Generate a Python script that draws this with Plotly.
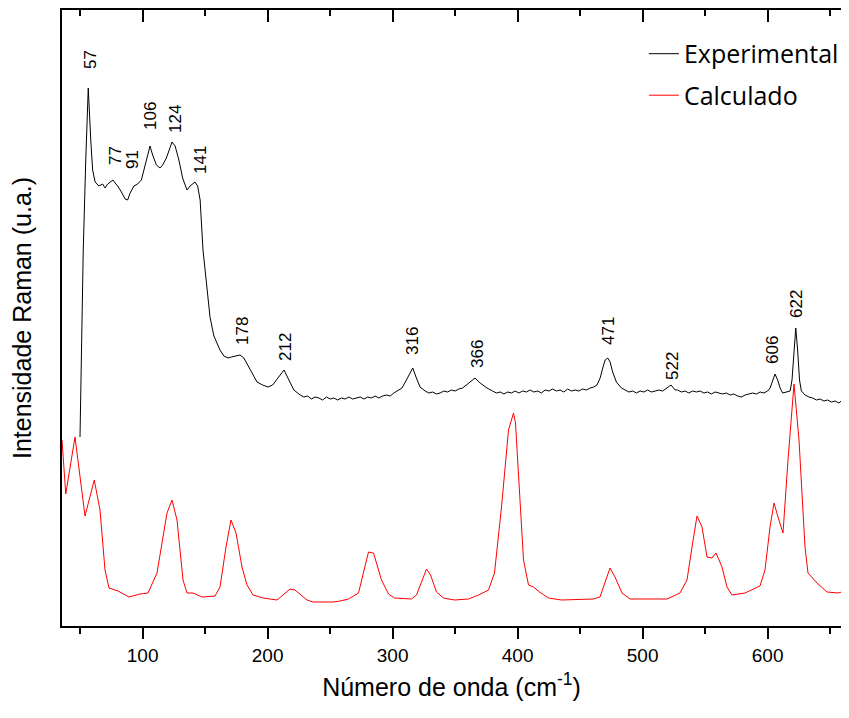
import plotly.graph_objects as go

# ---------------- data ----------------
exp_wn = [49.9, 52.5, 54.5, 56.5, 58.5, 60, 62, 65, 68, 70, 72, 74, 76.3, 78, 80, 83, 86, 88, 90, 93,
          96, 99, 101, 103.5, 105.9, 108, 111, 113.9, 116, 119, 121.5, 123.5, 126, 129, 132, 135.5,
          138, 141.9, 144, 146, 148.3, 151, 153.9, 157, 161.9, 165, 168.3, 171, 174, 177.9, 181, 185,
          188, 191.5, 196, 200.3, 204, 208, 213.1, 217, 221, 226, 229, 232, 235, 238, 241, 244, 247,
          250, 253, 256, 259, 262, 265, 268, 271, 274, 277, 280, 283, 286, 289, 292, 295, 298, 301,
          304, 307.5, 311, 316.1, 319, 321.9, 326, 329, 332, 335, 338, 341, 344, 347, 350, 353, 356,
          361, 365.9, 370, 375.5, 380, 383, 386, 389, 392, 395, 398, 401, 404, 407, 410, 413, 416,
          419, 422, 425, 428, 431, 434, 437, 440, 443, 446, 449, 452, 455, 458, 461, 463.5, 466,
          468.3, 470, 472.1, 474, 476, 479, 483, 486, 489, 492, 495, 498, 501, 504, 507, 510, 513,
          516, 519, 522.7, 526, 528, 531, 534, 537, 540, 543, 546, 549, 552, 555, 558, 561, 564, 567,
          570, 573, 576, 579, 582, 585, 588, 591, 594, 597, 600, 602, 604, 605.9, 608, 610, 612, 615,
          618, 619.5, 621, 622.5, 624, 625.5, 627, 630, 633, 636, 639, 642, 645, 648, 651, 654, 657,
          660, 663, 665]
exp_int = [189, 376, 466, 538, 486, 456, 444, 440, 442, 438, 442, 444, 446, 443, 440, 434, 427, 426, 433, 440,
           442, 446, 456, 471, 480, 471, 461, 458, 461, 468, 478, 484, 480, 466, 448, 436,
           440, 444, 440, 426, 376, 341, 309, 290, 276, 270, 268, 269, 270, 271, 268, 259,
           251, 244, 241, 239, 241, 248, 256, 246, 236, 231, 229, 230, 227, 229, 228, 226, 229,
           227, 228, 226, 228, 227, 229, 227, 228, 229, 227, 229, 228, 230, 228, 230, 231, 230, 233,
           235, 238, 246, 258, 248, 239, 235, 233, 234, 232, 233, 235, 234, 236, 235, 237, 238,
           243, 248, 243, 238, 235, 233, 234, 232, 234, 233, 235, 233, 235, 234, 236, 234, 235,
           233, 236, 235, 237, 235, 236, 234, 237, 235, 236, 235, 237, 236, 238, 239, 241, 248,
           259, 266, 268, 264, 254, 244, 238, 236, 234, 235, 233, 235, 234, 236, 234, 235, 236,
           235, 238, 241, 236, 236, 234, 235, 233, 235, 234, 235, 233, 234, 232, 234, 233, 232, 233,
           231, 232, 230, 229, 231, 232, 233, 232, 234, 233, 235, 238, 246, 252, 246, 238, 233, 234,
           235, 246, 276, 298, 276, 246, 235, 231, 229, 228, 226, 227, 225, 226, 224, 225, 223,
           226, 225, 227]

calc_wn = [35.5, 38.5, 45.9, 53.9, 61.3, 65.9, 69.9, 73.1, 80.3, 89.1, 97.9, 104.3, 111.5, 119.5, 123.5,
           127.5, 132.3, 135.5, 140.3, 147.5, 157.9, 161.9, 166.7, 170.7, 174.7, 179.5, 183.5, 188.3,
           196.3, 207.5, 212.3, 217.9, 221.9, 231.5, 236.3, 252.3, 257.9, 264.7, 272.7, 280.7, 284.7,
           291.1, 296.7, 301.5, 315.1, 319.1, 327.1, 330.3, 335.1, 340.7, 349.5, 360.7, 368.7, 376.7,
           381.5, 387.1, 392.7, 396.7, 398.3, 404.7, 408.7, 412.7, 417.5, 424.7, 435.1, 460.3, 465.9,
           473.9, 477.9, 483.5, 489.9, 519.5, 529.9, 535.5, 539.5, 543.5, 547.5, 551.5, 555.5, 558.7,
           563.5, 567.5, 571.5, 581.9, 593.9, 597.9, 601.9, 605.1, 608.3, 612.3, 616.3, 621.1, 625.1,
           629.9, 632.3, 639.5, 647.5, 656.3, 665.1]
calc_int = [186, 132, 189, 110, 146, 116, 56, 38, 35, 29, 32, 33, 53, 113, 126,
            106, 46, 33, 33, 29, 30, 39, 79, 106, 93, 59, 41, 31,
            28, 26, 31, 37, 36, 26, 24, 24, 25, 27, 33, 74, 73,
            46, 32, 28, 27, 31, 57, 51, 34, 28, 26, 27, 31, 36,
            53, 119, 196, 213, 203, 66, 41, 39, 34, 28, 26, 27, 29,
            58, 49, 33, 27, 27, 33, 46, 79, 110, 99, 69, 68, 73,
            59, 39, 31, 33, 40, 56, 99, 123, 109, 93, 166, 242, 186,
            79, 53, 43, 34, 33, 36]

peak_labels = ["57", "77", "91", "106", "124", "141", "178", "212", "316", "366", "471", "522", "606", "622"]
label_wn = [57.9, 77.9, 91.5, 105.9, 125.9, 145.9, 179.5, 213.9, 315.5, 367.5, 472.3, 523.5, 603.5, 622.7]
label_int = [566, 470, 466, 510, 507, 466, 295, 279, 285, 272, 295, 260, 276, 322]

# the last few cm-1 of the reference fall outside the visible page width
x_range = [35.5, 658.7]
y_range = [0, 616]

# ---------------- figure ----------------
fig = go.Figure()
fig.add_trace(go.Scatter(x=exp_wn, y=exp_int, mode="lines", name="Experimental",
                         line=dict(color="black", width=1), legendgroup="a"))
fig.add_trace(go.Scatter(x=calc_wn, y=calc_int, mode="lines", name="Calculado",
                         line=dict(color="#ff0000", width=1), legendgroup="b"))

for t, xv, yv in zip(peak_labels, label_wn, label_int):
    fig.add_annotation(x=xv, y=yv, text=t, textangle=-90, showarrow=False,
                       xanchor="center", yanchor="middle",
                       font=dict(family="Liberation Sans", size=17, color="black"))

axis_font = dict(family="Liberation Sans", size=19, color="black")

# the page body has an 8 px default margin; size the figure to the visible area
fig.update_layout(
    width=833, height=693,
    margin=dict(l=54, r=0, t=2, b=75, autoexpand=False),
    paper_bgcolor="white", plot_bgcolor="white",
    font=dict(family="Liberation Sans", color="black"),
    showlegend=True,
    legend=dict(x=0.747, y=0.966, xanchor="left", yanchor="top",
                font=dict(family="Open Sans", size=25, color="black"),
                bgcolor="rgba(0,0,0,0)", tracegroupgap=6, traceorder="grouped"),
    xaxis=dict(range=x_range, showgrid=False, zeroline=False, showline=True, automargin=False,
               linecolor="black", linewidth=2, ticks="outside", ticklen=11, tickwidth=2,
               tickcolor="black", dtick=100, tick0=0, tickfont=axis_font,
               minor=dict(ticks="outside", ticklen=6, tickwidth=2, tickcolor="black", dtick=50),
               title=dict(text="Número de onda (cm<sup>-1</sup>)",
                          font=dict(family="Liberation Sans", size=25), standoff=17)),
    xaxis2=dict(range=x_range, overlaying="x", side="top", matches="x", showgrid=False,
                zeroline=False, showline=True, linecolor="black", linewidth=2, automargin=False,
                ticks="inside", ticklen=12, tickwidth=2, tickcolor="black", dtick=100, tick0=0,
                showticklabels=False,
                minor=dict(ticks="inside", ticklen=6, tickwidth=2, tickcolor="black", dtick=50)),
    yaxis=dict(range=y_range, showgrid=False, zeroline=False, showline=True, automargin=False,
               linecolor="black", linewidth=2, ticks="", showticklabels=False,
               title=dict(text="Intensidade Raman (u.a.)",
                          font=dict(family="Liberation Sans", size=25), standoff=23)),
)
# invisible trace to attach the top (mirror) axis
fig.add_trace(go.Scatter(x=[x_range[0]], y=[0], xaxis="x2", mode="markers",
                         marker=dict(opacity=0), showlegend=False, hoverinfo="skip"))

fig.write_html("out.html")
